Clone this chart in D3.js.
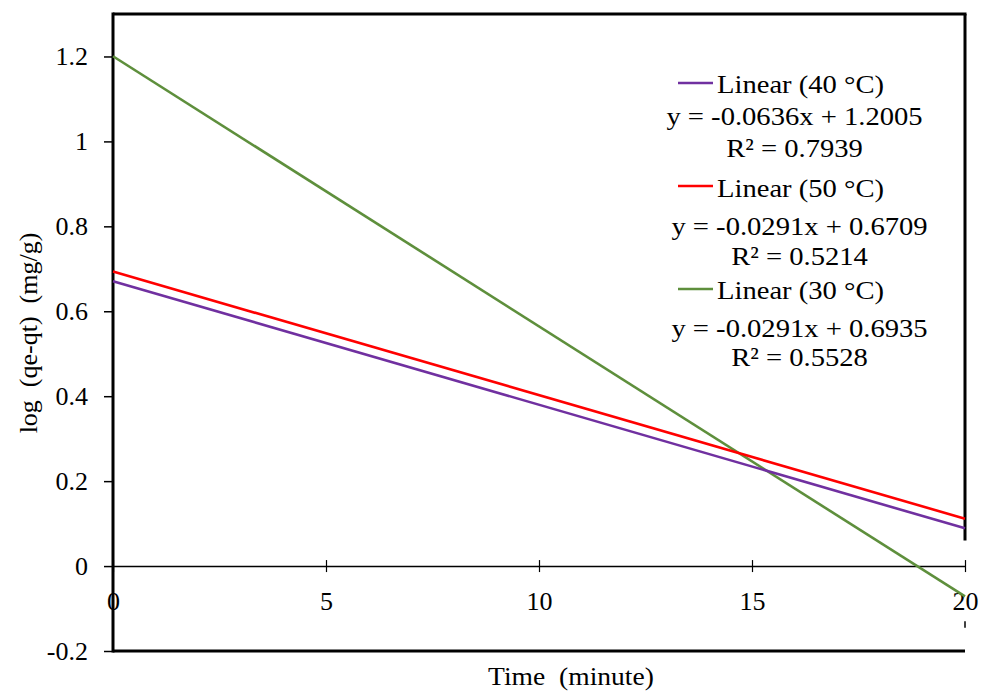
<!DOCTYPE html>
<html><head><meta charset="utf-8">
<script src="https://cdn.jsdelivr.net/npm/d3@7"></script>
<style>body{margin:0;background:#fff}svg{display:block}text{font-family:"Liberation Serif","Times New Roman",serif;fill:#000}</style>
</head><body><svg id="c" width="981" height="692"></svg>
<script>
// Data
const timeEnds = [0, 20];
const series = [
  {name: "Linear (40 °C)", color: "#7030A0", values: [0.6709, 0.0889]},
  {name: "Linear (50 °C)", color: "#FF0000", values: [0.6935, 0.1115]},
  {name: "Linear (30 °C)", color: "#5E8F3C", values: [1.2005, -0.0715]}
];
const drawOrder = [2, 0, 1];
const legendEq = ["y = -0.0636x + 1.2005", "y = -0.0291x + 0.6709", "y = -0.0291x + 0.6935"];
const legendR2 = ["R² = 0.7939", "R² = 0.5214", "R² = 0.5528"];
const xTicks = [0, 5, 10, 15, 20];
const yTicks = [-0.2, 0, 0.2, 0.4, 0.6, 0.8, 1, 1.2];
const yTickLabels = ["-0.2", "0", "0.2", "0.4", "0.6", "0.8", "1", "1.2"];

const svg = d3.select("#c");
const L = 113, R = 965, T = 14, B = 651;
const x = d3.scaleLinear().domain([0, 20]).range([L, R]);
const y = d3.scaleLinear().domain([-0.2, 1.3]).range([B, T]);
const fs = 26;

// y axis
const yAxis = svg.append("g").attr("transform", `translate(${L},0)`)
  .call(d3.axisLeft(y).tickValues(yTicks).tickSize(9).tickPadding(16).tickFormat((d, i) => yTickLabels[i]));
yAxis.select(".domain").remove();
yAxis.selectAll("text").style("font-size", fs + "px").style("font-family", '"Liberation Serif",serif');
yAxis.selectAll("line").attr("stroke", "#000").attr("stroke-width", 1.5);

// x axis at y=0
const xAxis = svg.append("g").attr("transform", `translate(0,${y(0)})`)
  .call(d3.axisBottom(x).tickValues(xTicks).tickSize(0).tickPadding(25));
xAxis.select(".domain").attr("stroke", "#000").attr("stroke-width", 1.5);
xAxis.selectAll("text").style("font-size", fs + "px").style("font-family", '"Liberation Serif",serif');
xAxis.selectAll(".tick").append("line").attr("y1", -6).attr("y2", 6).attr("stroke", "#000").attr("stroke-width", 1.2);

// borders
const bw = 3;
svg.append("line").attr("x1", L).attr("x2", L).attr("y1", T - 1.5).attr("y2", B + 1.5).attr("stroke", "#000").attr("stroke-width", bw);
svg.append("line").attr("x1", L).attr("x2", R + 1.5).attr("y1", T).attr("y2", T).attr("stroke", "#000").attr("stroke-width", bw);
svg.append("line").attr("x1", L).attr("x2", R).attr("y1", B).attr("y2", B).attr("stroke", "#000").attr("stroke-width", bw);
svg.append("line").attr("x1", R).attr("x2", R).attr("y1", T).attr("y2", y(0.06)).attr("stroke", "#000").attr("stroke-width", bw);
svg.append("line").attr("x1", R).attr("x2", R).attr("y1", y(-0.13)).attr("y2", y(-0.145)).attr("stroke", "#000").attr("stroke-width", 1.5);

// lines
const line = d3.line().x((d, i) => x(timeEnds[i])).y(d => y(d));
drawOrder.forEach(k => {
  svg.append("path").datum(series[k].values).attr("d", line)
    .attr("fill", "none").attr("stroke", series[k].color).attr("stroke-width", 2.6);
});

// legend / labels
const sx = 1.1;
const lg = svg.append("g");
const legLineY = [83, 186, 289];
const legTextY = [93, 197, 299];
const eqY = [125, 235, 337];
const r2Y = [157, 265, 366];
const eqCx = [794.5, 799.5, 799.5];
series.forEach((s, i) => {
  lg.append("line").attr("x1", 678).attr("x2", 713).attr("y1", legLineY[i]).attr("y2", legLineY[i])
    .attr("stroke", s.color).attr("stroke-width", 2.6);
  lg.append("text").attr("transform", `translate(717,${legTextY[i]}) scale(${sx},1)`).style("font-size", fs + "px").text(s.name);
  lg.append("text").attr("transform", `translate(${eqCx[i]},${eqY[i]}) scale(${sx},1)`).attr("text-anchor", "middle").style("font-size", fs + "px").text(legendEq[i]);
  lg.append("text").attr("transform", `translate(${eqCx[i]},${r2Y[i]}) scale(${sx},1)`).attr("text-anchor", "middle").style("font-size", fs + "px").text(legendR2[i]);
});

// axis titles
svg.append("text").attr("transform", "translate(571,685) scale(1.06,1)").attr("text-anchor", "middle").style("font-size", fs + "px")
  .attr("xml:space", "preserve").text("Time  (minute)");
svg.append("text").attr("transform", `translate(37,333) rotate(-90)`).attr("text-anchor", "middle").style("font-size", fs + "px")
  .attr("xml:space", "preserve").text("log  (qe-qt)  (mg/g)");
</script></body></html>
